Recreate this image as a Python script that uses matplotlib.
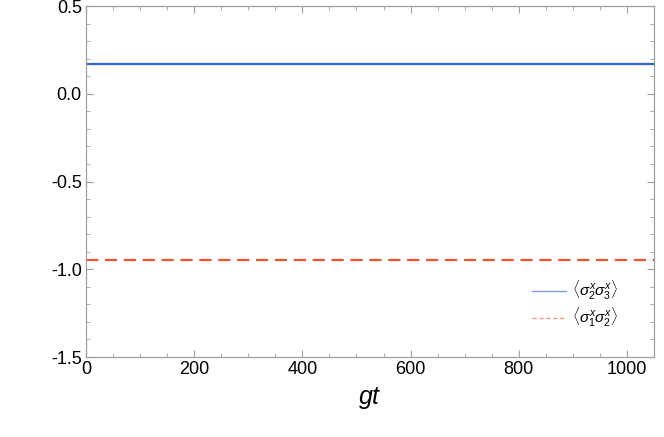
import matplotlib
matplotlib.use("Agg")
import matplotlib.pyplot as plt
from matplotlib.lines import Line2D
from matplotlib.ticker import MultipleLocator

plt.rcParams["font.family"] = ["Liberation Sans", "DejaVu Sans"]
plt.rcParams["mathtext.fontset"] = "custom"
plt.rcParams["mathtext.rm"] = "Liberation Sans"
plt.rcParams["mathtext.it"] = "Liberation Sans:italic"
plt.rcParams["axes.unicode_minus"] = False

# data
gt = [0, 250, 500, 750, 1050]
corr_23 = [0.17, 0.17, 0.17, 0.17, 0.17]
corr_12 = [-0.947, -0.947, -0.947, -0.947, -0.947]

blue = "#3463d9"
red = "#ec5530"
frame = "#a0a0a0"

fig = plt.figure(figsize=(6.64, 4.37), dpi=100)
ax = fig.add_axes([0.1295, 0.183, 0.8555, 0.803])

ax.plot(gt, corr_23, color=blue, linewidth=1.6)
ax.plot(gt, corr_12, color=red, linewidth=1.6, linestyle=(0, (5.5, 3)))

ax.set_xlim(0, 1050)
ax.set_ylim(-1.5, 0.5)
ax.xaxis.set_major_locator(MultipleLocator(200))
ax.xaxis.set_minor_locator(MultipleLocator(50))
ax.yaxis.set_major_locator(MultipleLocator(0.5))
ax.yaxis.set_minor_locator(MultipleLocator(0.1))

for sp in ax.spines.values():
    sp.set_color(frame)
    sp.set_linewidth(0.9)
ax.tick_params(which="both", direction="in", top=True, right=True,
               color=frame, labelsize=13, labelcolor="black")
ax.tick_params(which="major", length=5, width=0.8, pad=3)
ax.tick_params(which="minor", length=3, width=0.6)

ax.set_xlabel("$gt$", fontsize=18, labelpad=5)

handles = [
    Line2D([], [], color="#7f9ae6", linewidth=1.0),
    Line2D([], [], color="#f39a82", linewidth=1.0, linestyle=(0, (3, 2))),
]
labels = [r"$\langle\sigma_2^x\sigma_3^x\rangle$",
          r"$\langle\sigma_1^x\sigma_2^x\rangle$"]
ax.legend(handles, labels, loc="lower left", bbox_to_anchor=(0.785, 0.08),
          frameon=False, fontsize=11, handlelength=2.2, handletextpad=0.45,
          labelspacing=0.25, borderpad=0, borderaxespad=0)

fig.savefig("out.png", dpi=100)
